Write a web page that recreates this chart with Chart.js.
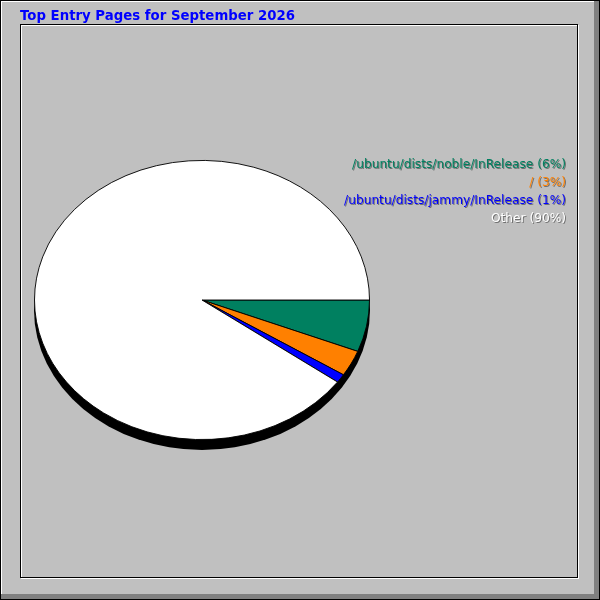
<!DOCTYPE html>
<html>
<head>
<meta charset="utf-8">
<style>
  body { margin: 0; background: #c0c0c0; }
  canvas { display: block; }
</style>
<script src="https://cdn.jsdelivr.net/npm/chart.js@4"></script>
</head>
<body>
<canvas id="entry_pages" width="600" height="600"></canvas>
<script>
const chart_title = 'Top Entry Pages for September 2026';
const pages = ['/ubuntu/dists/noble/InRelease', '/', '/ubuntu/dists/jammy/InRelease', 'Other'];
const percents = [6, 3, 1, 90];
const colors = ['#008060', '#ff8000', '#0000ff', '#ffffff'];

// pie geometry (webalizer style ellipse)
const cx = 202, cy = 300, rx = 168, ry = 140, depth = 10;

const frame_plugin = {
  id: 'frame',
  beforeDraw(chart) {
    const ctx = chart.ctx;
    ctx.save();
    ctx.fillStyle = '#c0c0c0';
    ctx.fillRect(0, 0, 600, 600);
    // bevel
    ctx.fillStyle = '#808080';
    ctx.fillRect(594, 0, 6, 600);
    ctx.fillRect(0, 594, 600, 6);
    ctx.fillStyle = '#ffffff';
    ctx.fillRect(1, 1, 593, 1);
    ctx.fillRect(1, 1, 1, 593);
    ctx.strokeStyle = '#000000';
    ctx.lineWidth = 1;
    ctx.strokeRect(0.5, 0.5, 599, 599);
    // inner panel
    ctx.strokeStyle = '#ffffff';
    ctx.strokeRect(21.5, 25.5, 557, 553);
    ctx.strokeStyle = '#000000';
    ctx.strokeRect(20.5, 24.5, 557, 553);
    // title
    ctx.font = 'bold 13.3px "DejaVu Sans"';
    ctx.fillStyle = '#0000ff';
    ctx.textBaseline = 'alphabetic';
    ctx.fillText(chart_title, 20, 20);
    ctx.restore();
  },
  beforeDatasetsDraw(chart) {
    const ctx = chart.ctx;
    ctx.save();
    ctx.translate(cx, cy);
    ctx.scale(1, ry / rx);
    ctx.translate(-cx, -cy);
    // 3d side of the pie
    ctx.fillStyle = '#000000';
    ctx.beginPath();
    ctx.arc(cx, cy + depth * rx / ry, rx, 0, Math.PI * 2);
    ctx.fill();
  },
  afterDatasetsDraw(chart) {
    chart.ctx.restore();
    // legend, right aligned
    const ctx = chart.ctx;
    const ds = chart.data.datasets[0];
    ctx.save();
    ctx.font = '12.2px "DejaVu Sans"';
    ctx.textAlign = 'right';
    ctx.textBaseline = 'alphabetic';
    chart.data.labels.forEach((lab, i) => {
      const txt = lab + ' (' + ds.data[i] + '%)';
      const y = 168 + i * 18;
      ctx.fillStyle = '#707070';
      ctx.fillText(txt, 567, y + 1);
      ctx.fillStyle = ds.backgroundColor[i];
      ctx.fillText(txt, 566, y);
    });
    ctx.restore();
  }
};

new Chart(document.getElementById('entry_pages'), {
  type: 'pie',
  data: {
    labels: pages,
    datasets: [{
      data: percents,
      backgroundColor: colors,
      borderColor: '#000000',
      borderWidth: 1
    }]
  },
  options: {
    responsive: false,
    devicePixelRatio: 1,
    animation: false,
    rotation: 90,
    layout: {
      padding: { left: cx - rx, right: 600 - cx - rx, top: cy - rx, bottom: 600 - cy - rx }
    },
    plugins: {
      legend: { display: false },
      title: { display: false },
      tooltip: { enabled: false }
    }
  },
  plugins: [frame_plugin]
});
</script>
</body>
</html>
